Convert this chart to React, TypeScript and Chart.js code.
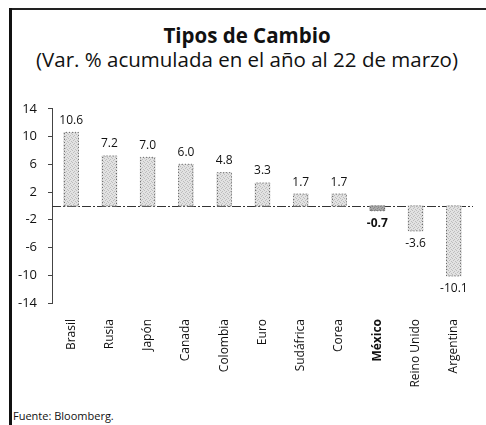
import React, { useEffect, useRef } from "react";
import { Chart, registerables } from "chart.js";

Chart.register(...registerables);

const categories = ["Brasil", "Rusia", "Japón", "Canada", "Colombia", "Euro", "Sudáfrica", "Corea", "México", "Reino Unido", "Argentina"];
const values = [10.6, 7.2, 7.0, 6.0, 4.8, 3.3, 1.7, 1.7, -0.7, -3.6, -10.1];
const valueLabels = ["10.6", "7.2", "7.0", "6.0", "4.8", "3.3", "1.7", "1.7", "-0.7", "-3.6", "-10.1"];
const yTicks = [14, 10, 6, 2, -2, -6, -10, -14];
const highlight = "México";

const FONT = "'Open Sans', 'Noto Sans', sans-serif";

function makePattern(base: string, dot: string) {
  const c = document.createElement("canvas");
  c.width = 4;
  c.height = 4;
  const g = c.getContext("2d")!;
  g.fillStyle = base;
  g.fillRect(0, 0, 4, 4);
  g.fillStyle = dot;
  g.fillRect(0, 0, 1, 1);
  g.fillRect(2, 1, 1, 1);
  g.fillRect(1, 2, 1, 1);
  g.fillRect(3, 3, 1, 1);
  const ctx2 = document.createElement("canvas").getContext("2d")!;
  return ctx2.createPattern(c, "repeat")!;
}

const decorPlugin = {
  id: "decor",
  beforeDatasetsDraw(chart: any) {
    const { ctx, chartArea, scales } = chart;
    const y0 = Math.round(scales.y.getPixelForValue(0)) + 0.5;
    ctx.save();
    ctx.strokeStyle = "#333";
    ctx.lineWidth = 1.2;
    ctx.setLineDash([9, 2, 2, 2]);
    ctx.beginPath();
    ctx.moveTo(chartArea.left, y0);
    ctx.lineTo(chartArea.right, y0);
    ctx.stroke();
    ctx.restore();
  },
  afterDatasetsDraw(chart: any) {
    const { ctx } = chart;
    const meta = chart.getDatasetMeta(0);
    ctx.save();
    meta.data.forEach((bar: any, i: number) => {
      const { x, y, base, width } = bar.getProps(["x", "y", "base", "width"], true);
      const left = Math.round(x - width / 2) + 0.5;
      const right = Math.round(x + width / 2) - 0.5;
      const top = Math.min(y, base);
      const bottom = Math.max(y, base);
      ctx.strokeStyle = "#666";
      ctx.lineWidth = 1;
      ctx.setLineDash([1, 2]);
      ctx.beginPath();
      ctx.moveTo(left, bottom);
      ctx.lineTo(left, top);
      ctx.lineTo(right, top);
      ctx.lineTo(right, bottom);
      ctx.lineTo(left, bottom);
      ctx.stroke();
      ctx.setLineDash([]);
      const v = values[i];
      const bold = categories[i] === highlight;
      ctx.font = `${bold ? "bold " : ""}12px ${FONT}`;
      ctx.fillStyle = "#111";
      ctx.textAlign = "center";
      ctx.textBaseline = "middle";
      const ly = v >= 0 ? y - 12 : y + 13;
      ctx.fillText(valueLabels[i], x, ly);
    });
    ctx.restore();
  },
};

function TiposChart() {
  const ref = useRef<HTMLCanvasElement | null>(null);
  useEffect(() => {
    if (!ref.current) return;
    const normal = makePattern("#e2e2e2", "#bdbdbd");
    const dark = makePattern("#a8a8a8", "#8a8a8a");
    const chart = new Chart(ref.current, {
      type: "bar",
      data: {
        labels: categories,
        datasets: [
          {
            data: values,
            backgroundColor: categories.map((c) => (c === highlight ? dark : normal)) as any,
            borderWidth: 0,
            barThickness: 15,
          },
        ],
      },
      plugins: [decorPlugin],
      options: {
        animation: false,
        responsive: false,
        maintainAspectRatio: false,
        layout: { padding: { top: 12, right: 13, left: 0, bottom: 0 } },
        plugins: {
          legend: { display: false },
          tooltip: { enabled: false },
        },
        scales: {
          x: {
            grid: { display: false },
            border: { display: false },
            ticks: {
              autoSkip: false,
              minRotation: 90,
              maxRotation: 90,
              padding: 8,
              color: "#111",
              font: (c: any) => ({
                family: FONT,
                size: 12,
                weight: categories[c.index] === highlight ? "bold" : "normal",
              }),
            },
            afterFit: (s: any) => {
              s.height = 92;
            },
          },
          y: {
            min: -14,
            max: 14,
            afterBuildTicks: (s: any) => {
              s.ticks = yTicks.map((v) => ({ value: v }));
            },
            grid: {
              drawOnChartArea: false,
              drawTicks: true,
              tickLength: 4,
              tickColor: "#444",
            },
            border: { display: true, color: "#444", width: 1 },
            ticks: {
              padding: 11,
              color: "#111",
              font: { family: FONT, size: 13 },
            },
            afterFit: (s: any) => {
              s.width = 40;
            },
          },
        },
      },
    });
    return () => chart.destroy();
  }, []);
  return <canvas ref={ref} width={474} height={305} style={{ position: "absolute", left: 12, top: 90, width: 474, height: 305 }} />;
}

export default function App() {
  return (
    <div
      style={{
        position: "fixed",
        left: 0,
        top: 0,
        width: 486,
        height: 425,
        overflow: "hidden",
        background: "#fff",
        fontFamily: FONT,
        color: "#111",
      }}
    >
      <div style={{ position: "absolute", left: 9, top: 8, width: 477, height: 2, background: "#222" }} />
      <div style={{ position: "absolute", left: 9, top: 8, width: 3, height: 417, background: "#111" }} />
      <div style={{ position: "absolute", left: 12, top: 22, width: 470, textAlign: "center", fontSize: 20.5, lineHeight: "26px", fontWeight: 700 }}>
        Tipos de Cambio
      </div>
      <div
        style={{
          position: "absolute",
          left: 12,
          top: 47,
          width: 470,
          textAlign: "center",
          fontSize: 20.5,
          lineHeight: "24px",
          whiteSpace: "nowrap",
        }}
      >
        (Var. % acumulada en el año al 22 de marzo)
      </div>
      <TiposChart />
      <div style={{ position: "absolute", left: 13, top: 409, fontSize: 11, lineHeight: "14px" }}>Fuente: Bloomberg.</div>
    </div>
  );
}
